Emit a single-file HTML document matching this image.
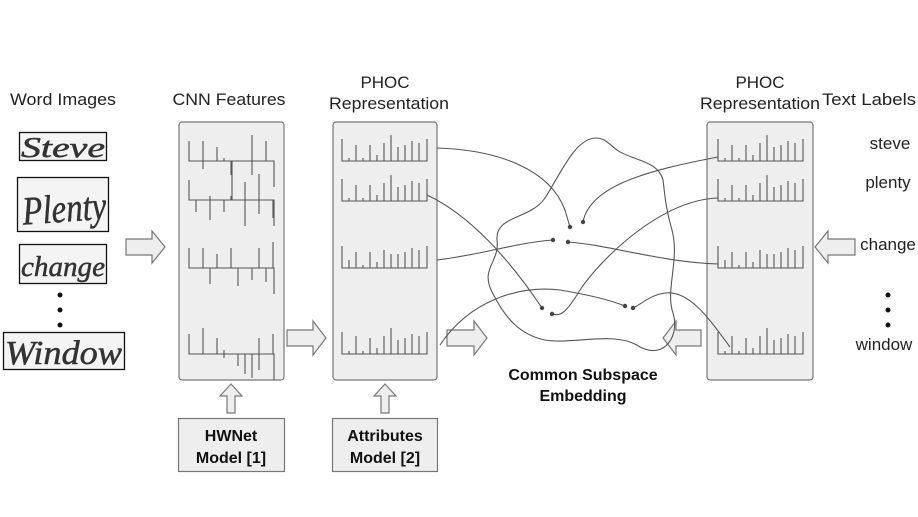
<!DOCTYPE html>
<html><head><meta charset="utf-8"><style>
html,body{margin:0;padding:0;background:#fff;}
svg{display:block;font-family:"Liberation Sans",Arial,sans-serif;}
</style></head><body>
<svg id="s" width="918" height="517" viewBox="0 0 918 517" xmlns="http://www.w3.org/2000/svg">
<g font-size="17" fill="#222">
<text x="63" y="105" text-anchor="middle" textLength="106" lengthAdjust="spacingAndGlyphs">Word Images</text>
<text x="229" y="105" text-anchor="middle" textLength="113" lengthAdjust="spacingAndGlyphs">CNN Features</text>
<text x="385" y="88" text-anchor="middle">PHOC</text>
<text x="389" y="109" text-anchor="middle" textLength="120" lengthAdjust="spacingAndGlyphs">Representation</text>
<text x="760" y="88" text-anchor="middle">PHOC</text>
<text x="760" y="109" text-anchor="middle" textLength="120" lengthAdjust="spacingAndGlyphs">Representation</text>
<text x="869" y="105" text-anchor="middle" textLength="94" lengthAdjust="spacingAndGlyphs">Text Labels</text>
<text x="890" y="149" text-anchor="middle">steve</text>
<text x="888" y="188" text-anchor="middle">plenty</text>
<text x="888" y="250" text-anchor="middle">change</text>
<text x="884" y="350" text-anchor="middle">window</text>
</g>
<g fill="#111"><circle cx="888" cy="295" r="2.5"/><circle cx="888" cy="310" r="2.5"/><circle cx="888" cy="325" r="2.5"/>
<circle cx="60" cy="295" r="2.5"/><circle cx="60" cy="310" r="2.5"/><circle cx="60" cy="325" r="2.5"/></g>
<g font-size="16" font-weight="bold" text-anchor="middle" fill="#111">
<text x="583" y="380">Common Subspace</text>
<text x="583" y="401">Embedding</text>
</g>
<g fill="#f4f4f4" stroke="#111" stroke-width="1.3">
<rect x="19.5" y="132.5" width="87" height="28"/>
<rect x="17.5" y="177.5" width="91" height="54"/>
<rect x="19.5" y="244.5" width="87" height="39"/>
<rect x="3.5" y="332.5" width="121" height="37"/>
</g>
<g font-family="'Liberation Serif',serif" font-style="italic" fill="#333" stroke="#333" stroke-width="0.5">
<text x="21" y="157" font-size="28" textLength="84" lengthAdjust="spacingAndGlyphs">Steve</text>
<text x="22" y="222" font-size="40" textLength="84" lengthAdjust="spacingAndGlyphs" transform="rotate(-4 60 205)">Plenty</text>
<text x="21" y="276" font-size="28" textLength="84" lengthAdjust="spacingAndGlyphs">change</text>
<text x="5" y="364" font-size="34" textLength="117" lengthAdjust="spacingAndGlyphs">Window</text>
</g>
<g fill="#eeeeee" stroke="#777" stroke-width="1.2">
<rect x="179" y="122" width="105" height="258" rx="3"/>
<rect x="333" y="122" width="104" height="258" rx="3"/>
<rect x="707" y="122" width="106" height="258" rx="3"/>
<rect x="178.5" y="418.5" width="106" height="53"/>
<rect x="332.5" y="418.5" width="105" height="53"/>
</g>
<g font-size="16" font-weight="bold" text-anchor="middle" fill="#111">
<text x="231" y="441">HWNet</text><text x="231" y="463">Model [1]</text>
<text x="385" y="441">Attributes</text><text x="385" y="463">Model [2]</text>
</g>
<g fill="#eeeeee" stroke="#777" stroke-width="1.2">
<path d="M126,239 h26 v-8 l13,16 l-13,16 v-8 h-26 z"/>
<path d="M287,330 h26 v-9 l13,17 l-13,17 v-9 h-26 z"/>
<path d="M447,330 h27 v-9 l13,17 l-13,17 v-9 h-27 z"/>
<path d="M701,330 h-25 v-9 l-13,17 l13,17 v-9 h25 z"/>
<path d="M855,239 h-27 v-8 l-13,16 l13,16 v-8 h27 z"/>
<path d="M227,413 v-17 h-7 l11,-12 l11,12 h-7 v17 z"/>
<path d="M381,413 v-17 h-7 l11,-12 l11,12 h-7 v17 z"/>
</g>
<g id="bars" stroke="#555" stroke-width="1.1" fill="none"></g>
<path fill="none" stroke="#555" stroke-width="1.1" d="M596,138 C575,138 560,175 545,198 C530,220 495,215 497,240 C500,262 480,268 492,292 C505,318 520,335 545,340 C575,345 615,330 640,347 C665,360 680,335 673,313 C665,290 680,260 672,230 C665,205 665,195 663,180 C658,160 630,160 617,150 C610,145 605,138 596,138 Z"/>
<g fill="none" stroke="#555" stroke-width="1.1">
<path d="M437,148 C500,150 550,170 565,210 L570,227"/>
<path d="M427,195 C470,215 510,260 542,308"/>
<path d="M437,260 C480,255 520,242 553,240"/>
<path d="M440,345 C470,300 520,285 560,290 C590,295 610,300 625,306"/>
<path d="M718,157 C650,170 590,185 583,222"/>
<path d="M718,198 C660,200 600,260 580,290 C565,315 560,316 552,314"/>
<path d="M718,264 C660,262 610,245 568,242"/>
<path d="M730,347 C710,320 690,290 665,293 C650,295 640,305 633,308"/>
</g>
<g fill="#444">
<circle cx="570" cy="227" r="2.2"/><circle cx="583" cy="222" r="2.2"/><circle cx="553" cy="240" r="2.2"/><circle cx="568" cy="242" r="2.2"/>
<circle cx="542" cy="308" r="2.2"/><circle cx="552" cy="314" r="2.2"/><circle cx="625" cy="306" r="2.2"/><circle cx="633" cy="308" r="2.2"/>
</g>
</svg>
<script>
var g=document.getElementById('bars'),d='';
function phoc(x,y,h){d+='M'+x+','+(y-22)+'V'+y+'H'+(x+85)+'V'+(y-22);
 for(var i=0;i<h.length;i++){var xx=x+7+i*7;d+='M'+xx+','+y+'v-'+h[i];}}
function cnn(x,y,up,dn){d+='M'+x+','+(y-20)+'V'+y+'H'+(x+85)+'V'+(y+26);
 for(var i=0;i<up.length;i++){if(up[i])d+='M'+(x+7+i*7)+','+y+'v-'+up[i];}
 for(var i=0;i<dn.length;i++){if(dn[i])d+='M'+(x+7+i*7)+','+y+'v'+dn[i];}}
var P=[[3,16,3,16,6,18,26,14,16,20,18],[3,16,3,16,6,18,26,14,16,20,18],[8,16,3,16,6,18,14,14,16,20,18],[3,18,3,16,6,18,26,14,16,20,18]];
[161,201,268,354].forEach(function(y,k){phoc(342,y,P[k]);phoc(718,y,P[k]);});
cnn(189,161,[0,20,0,14,3,0,0,0,26,0,20,0],[0,8,0,0,0,14,0,0,14,0,0,0]);
d+='M232,161V200';
cnn(189,200,[0,0,4,0,0,4,0,18,0,26,0,0],[12,0,20,0,12,0,0,26,0,14,0,18]);
cnn(189,268,[0,20,0,14,0,20,0,0,0,20,0,26],[0,0,16,0,0,0,18,0,12,0,14,0]);
cnn(189,354,[0,26,0,16,4,0,0,0,0,16,0,20],[0,0,0,0,4,0,12,20,24,16,0,0]);
var p=document.createElementNS('http://www.w3.org/2000/svg','path');p.setAttribute('d',d);g.appendChild(p);
</script>
</body></html>
